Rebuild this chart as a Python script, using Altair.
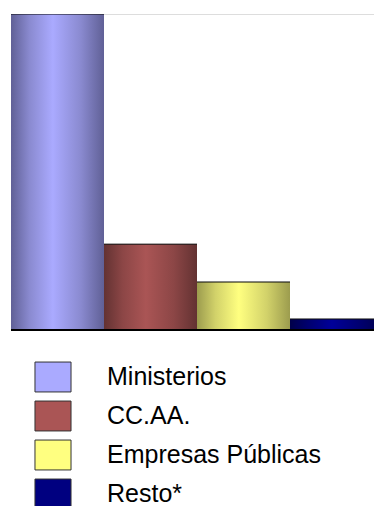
import altair as alt
import pandas as pd

categories = ["Ministerios", "CC.AA.", "Empresas Públicas", "Resto*"]
values = [68.5, 18.6, 10.4, 2.4]
flat_colors = ["#aaaaff", "#aa5555", "#ffff80", "#000080"]
edge_colors = ["#606096", "#633232", "#9c9c4e", "#00004a"]
mid_colors = ["#8a8ad0", "#8c4646", "#d2d26a", "#000070"]
center_colors = ["#aaaaff", "#aa5555", "#ffff80", "#000099"]

df = pd.DataFrame({"cat": categories, "val": values})

x_enc = alt.X("cat:N", sort=categories, axis=None,
              scale=alt.Scale(domain=categories, range=[0, 372],
                              paddingInner=0, paddingOuter=0))
y_enc = alt.Y("val:Q", axis=None,
              scale=alt.Scale(domain=[0, max(values)], nice=False, zero=True))

legend = alt.Legend(
    title=None, orient="none", legendX=23, legendY=344,
    symbolType="M-1,-0.83H1V0.83H-1Z", symbolSize=1300,
    symbolStrokeColor="#333333", symbolStrokeWidth=1, symbolOpacity=1,
    labelFont="Liberation Sans", labelFontSize=25, labelColor="#000000",
    labelOffset=35, rowPadding=3, padding=0, labelLimit=400,
)

base = alt.Chart(df).mark_bar(clip=True).encode(
    x=x_enc, y=y_enc,
    color=alt.Color("cat:N", sort=categories,
                    scale=alt.Scale(domain=categories, range=flat_colors),
                    legend=legend),
)

layers = [base]
for c, e, m, ce in zip(categories, edge_colors, mid_colors, center_colors):
    grad = alt.Gradient(
        gradient="linear", x1=0, y1=0, x2=1, y2=0,
        stops=[alt.GradientStop(color=e, offset=0),
               alt.GradientStop(color=m, offset=0.2),
               alt.GradientStop(color=ce, offset=0.45),
               alt.GradientStop(color=m, offset=0.75),
               alt.GradientStop(color=e, offset=1)],
    )
    layers.append(
        alt.Chart(df).transform_filter(alt.datum.cat == c)
        .mark_bar(clip=True, color=grad).encode(x=x_enc, y=y_enc)
    )

tops = alt.Chart(df).mark_tick(clip=True, color="#111111", thickness=1.5, size=93).encode(
    x=x_enc, y=y_enc)
baseline = alt.Chart(df).mark_rule(color="#000000", strokeWidth=1.5).encode(
    y=alt.datum(0))
layers += [tops, baseline]

chart = alt.layer(*layers).properties(
    width=363, height=316,
    autosize=alt.AutoSizeParams(type="none"),
    padding={"left": 11, "top": 14, "right": 0, "bottom": 176},
).configure_view(stroke=None).configure(background="#ffffff")

chart.save("out.html", embed_options={"renderer": "svg", "actions": False})
